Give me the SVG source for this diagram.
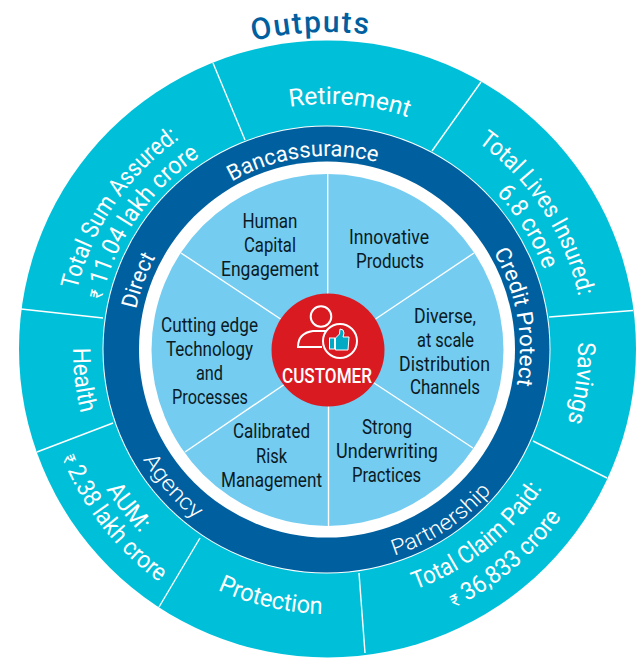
<svg xmlns="http://www.w3.org/2000/svg" width="636" height="664" viewBox="0 0 636 664">
<style>
text{font-family:"Roboto","Liberation Sans",sans-serif}
.b{font-size:20px;fill:#0b1a24;text-anchor:middle}
.o{font-size:24.500px;fill:#fff;text-anchor:middle}
.r{font-size:22px;fill:#fff;text-anchor:middle}
.l{font-weight:300}
.rs{font-size:17px}
.div{stroke:#fff;stroke-width:1.4;fill:none}
</style>
<defs>
<path id="c318" d="M328 668A318 318 0 1 1 328 32A318 318 0 1 1 328 668Z"/>
<path id="c246" d="M328 596A246 246 0 1 1 328 104A246 246 0 1 1 328 596Z"/>
<path id="c258" d="M328 608A258 258 0 1 1 328 92A258 258 0 1 1 328 608Z"/>
<path id="c232" d="M328 582A232 232 0 1 1 328 118A232 232 0 1 1 328 582Z"/>
<path id="c256" d="M328 606A256 256 0 1 1 328 94A256 256 0 1 1 328 606Z"/>
<path id="c230" d="M328 580A230 230 0 1 1 328 120A230 230 0 1 1 328 580Z"/>
<path id="c250" d="M328 600A250 250 0 1 1 328 100A250 250 0 1 1 328 600Z"/>
<path id="c194" d="M328 544A194 194 0 1 1 328 156A194 194 0 1 1 328 544Z"/>
<path id="c196" d="M328 546A196 196 0 1 1 328 154A196 196 0 1 1 328 546Z"/>
<path id="c192" d="M328 542A192 192 0 1 1 328 158A192 192 0 1 1 328 542Z"/>
<path id="a255" d="M328 95A255 255 0 1 0 328 605A255 255 0 1 0 328 95Z"/>
<path id="a262" d="M328 88A262 262 0 1 0 328 612A262 262 0 1 0 328 88Z"/>
<path id="a287" d="M328 63A287 287 0 1 0 328 637A287 287 0 1 0 328 63Z"/>
<path id="a264" d="M328 86A264 264 0 1 0 328 614A264 264 0 1 0 328 86Z"/>
<path id="a215" d="M328 135A215 215 0 1 0 328 565A215 215 0 1 0 328 135Z"/>
<path id="a216" d="M328 134A216 216 0 1 0 328 566A216 216 0 1 0 328 134Z"/>
</defs>
<rect width="636" height="664" fill="#fff"/>
<g id="rings">
<circle cx="327.5" cy="349" r="308.5" fill="#00c0d9"/>
<circle cx="326.5" cy="349.5" r="224" fill="#fff"/>
<circle cx="326.5" cy="349.5" r="223" fill="#00609f"/>
<circle cx="327" cy="349.5" r="188" fill="#fff"/>
<circle cx="327.5" cy="350" r="176" fill="#74ccf1"/>
</g>
<g id="connectors">
<line class="div" x1="213" y1="63" x2="245" y2="140"/>
<line class="div" x1="481" y1="82" x2="432" y2="151"/>
<line class="div" x1="633" y1="310.500" x2="549" y2="317"/>
<line class="div" x1="21" y1="309" x2="103" y2="318"/>
<line class="div" x1="37" y1="452" x2="113" y2="423"/>
<line class="div" x1="159" y1="607" x2="200" y2="538"/>
<line class="div" x1="365" y1="653" x2="359" y2="573"/>
<line class="div" x1="607" y1="478" x2="533" y2="441"/>
<line class="div" x1="327.700" y1="174" x2="327.700" y2="296"/>
<line class="div" x1="328.500" y1="404" x2="328.500" y2="526"/>
<line class="div" x1="181" y1="253" x2="282" y2="320"/>
<line class="div" x1="474" y1="253" x2="374" y2="320"/>
<line class="div" x1="185" y1="452" x2="285" y2="384"/>
<line class="div" x1="473" y1="448" x2="371" y2="381"/>
</g>
<g id="title"><text font-size="30" font-weight="500" fill="#00609f" text-anchor="middle"><textPath href="#c318" startOffset="49.11%" textLength="116" lengthAdjust="spacing">Outputs</textPath></text></g>
<g id="out-retirement"><text class="o"><textPath href="#c246" startOffset="51.39%" textLength="120" lengthAdjust="spacingAndGlyphs">Retirement</textPath></text></g>
<g id="out-lives"><text class="o"><textPath href="#c256" startOffset="65.8%" textLength="188" lengthAdjust="spacingAndGlyphs">Total Lives Insured:</textPath></text><text class="o"><textPath href="#c230" startOffset="66.2%" textLength="91" lengthAdjust="spacingAndGlyphs">6.8 crore</textPath></text></g>
<g id="out-savings"><text class="o"><textPath href="#c250" startOffset="77.08%" textLength="81" lengthAdjust="spacingAndGlyphs">Savings</textPath></text></g>
<g id="out-claim"><text class="o"><textPath href="#a255" startOffset="60.72%" textLength="165" lengthAdjust="spacingAndGlyphs">Total Claim Paid:</textPath></text><text class="o"><textPath href="#a287" startOffset="61.19%" textLength="142" lengthAdjust="spacingAndGlyphs"><tspan class="rs">₹</tspan> 36,833 crore</textPath></text></g>
<g id="out-protection"><text class="o"><textPath href="#a264" startOffset="46.39%" textLength="108" lengthAdjust="spacingAndGlyphs">Protection</textPath></text></g>
<g id="out-aum"><text class="o"><textPath href="#a262" startOffset="35.61%" textLength="56" lengthAdjust="spacingAndGlyphs">AUM:</textPath></text><text class="o"><textPath href="#a287" startOffset="35.56%" textLength="160" lengthAdjust="spacingAndGlyphs"><tspan class="rs">₹</tspan> 2.38 lakh crore</textPath></text></g>
<g id="out-health"><text class="o"><textPath href="#a255" startOffset="26.94%" textLength="66" lengthAdjust="spacingAndGlyphs">Health</textPath></text></g>
<g id="out-sum"><text class="o"><textPath href="#c258" startOffset="34.5%" textLength="186" lengthAdjust="spacingAndGlyphs">Total Sum Assured:</textPath></text><text class="o"><textPath href="#c232" startOffset="34.6%" textLength="178" lengthAdjust="spacingAndGlyphs"><tspan class="rs">₹</tspan> 11.04 lakh crore</textPath></text></g>
<g id="ch-banca"><text class="r"><textPath href="#c194" startOffset="47.9%" textLength="150" lengthAdjust="spacingAndGlyphs">Bancassurance</textPath></text></g>
<g id="ch-direct"><text class="r"><textPath href="#c196" startOffset="30.6%" textLength="56" lengthAdjust="spacingAndGlyphs">Direct</textPath></text></g>
<g id="ch-credit"><text class="r"><textPath href="#c192" startOffset="72.22%" textLength="138" lengthAdjust="spacingAndGlyphs">Credit Protect</textPath></text></g>
<g id="ch-agency"><text class="r l"><textPath href="#a215" startOffset="36.47%" textLength="80" lengthAdjust="spacingAndGlyphs">Agency</textPath></text></g>
<g id="ch-partnership"><text class="r l"><textPath href="#a216" startOffset="59.31%" textLength="118" lengthAdjust="spacingAndGlyphs">Partnership</textPath></text></g>
<g transform="translate(0 0.700)">
<g id="in-human">
<text class="b" x="270" y="227" textLength="55" lengthAdjust="spacingAndGlyphs">Human</text>
<text class="b" x="270" y="251" textLength="52" lengthAdjust="spacingAndGlyphs">Capital</text>
<text class="b" x="270" y="275" textLength="98" lengthAdjust="spacingAndGlyphs">Engagement</text>
</g>
<g id="in-products">
<text class="b" x="389" y="243" textLength="80" lengthAdjust="spacingAndGlyphs">Innovative</text>
<text class="b" x="390" y="267" textLength="68" lengthAdjust="spacingAndGlyphs">Products</text>
</g>
<g id="in-distribution">
<text class="b" x="445" y="322" textLength="62" lengthAdjust="spacingAndGlyphs">Diverse,</text>
<text class="b" x="445.500" y="346" textLength="57" lengthAdjust="spacingAndGlyphs">at scale</text>
<text class="b" x="444.500" y="370" textLength="91" lengthAdjust="spacingAndGlyphs">Distribution</text>
<text class="b" x="445" y="393" textLength="70" lengthAdjust="spacingAndGlyphs">Channels</text>
</g>
<g id="in-underwriting">
<text class="b" x="387" y="433" textLength="50" lengthAdjust="spacingAndGlyphs">Strong</text>
<text class="b" x="387" y="457" textLength="102" lengthAdjust="spacingAndGlyphs">Underwriting</text>
<text class="b" x="386.500" y="481" textLength="69" lengthAdjust="spacingAndGlyphs">Practices</text>
</g>
<g id="in-risk">
<text class="b" x="271.500" y="437" textLength="77" lengthAdjust="spacingAndGlyphs">Calibrated</text>
<text class="b" x="271.500" y="462" textLength="31" lengthAdjust="spacingAndGlyphs">Risk</text>
<text class="b" x="271.500" y="486" textLength="101" lengthAdjust="spacingAndGlyphs">Management</text>
</g>
<g id="in-technology">
<text class="b" x="209.500" y="331" textLength="97" lengthAdjust="spacingAndGlyphs">Cutting edge</text>
<text class="b" x="209.500" y="355" textLength="87" lengthAdjust="spacingAndGlyphs">Technology</text>
<text class="b" x="209.500" y="379" textLength="27" lengthAdjust="spacingAndGlyphs">and</text>
<text class="b" x="210" y="403" textLength="76" lengthAdjust="spacingAndGlyphs">Processes</text>
</g>
</g>
<g id="customer">
<circle cx="328" cy="350" r="56.500" fill="#da1a21"/>
<circle cx="321" cy="316.500" r="10.300" fill="none" stroke="#fff" stroke-width="2"/>
<path d="M327 331H313Q298 333 298 347H322" fill="none" stroke="#fff" stroke-width="2"/>
<circle cx="340" cy="341" r="17" fill="#da1a21" stroke="#fff" stroke-width="2"/>
<rect x="329.500" y="338" width="5" height="11" fill="#00a9c4" stroke="#fff" stroke-width="1"/>
<path d="M335.500 338L339.500 334L340 329Q344 329 344 333L343 337H349L348 350H335.500Z" fill="#00a9c4" stroke="#fff" stroke-width="1"/>
<text x="327" y="383" font-size="20" font-weight="500" fill="#fff" text-anchor="middle" textLength="90" lengthAdjust="spacingAndGlyphs">CUSTOMER</text>
</g>
</svg>
